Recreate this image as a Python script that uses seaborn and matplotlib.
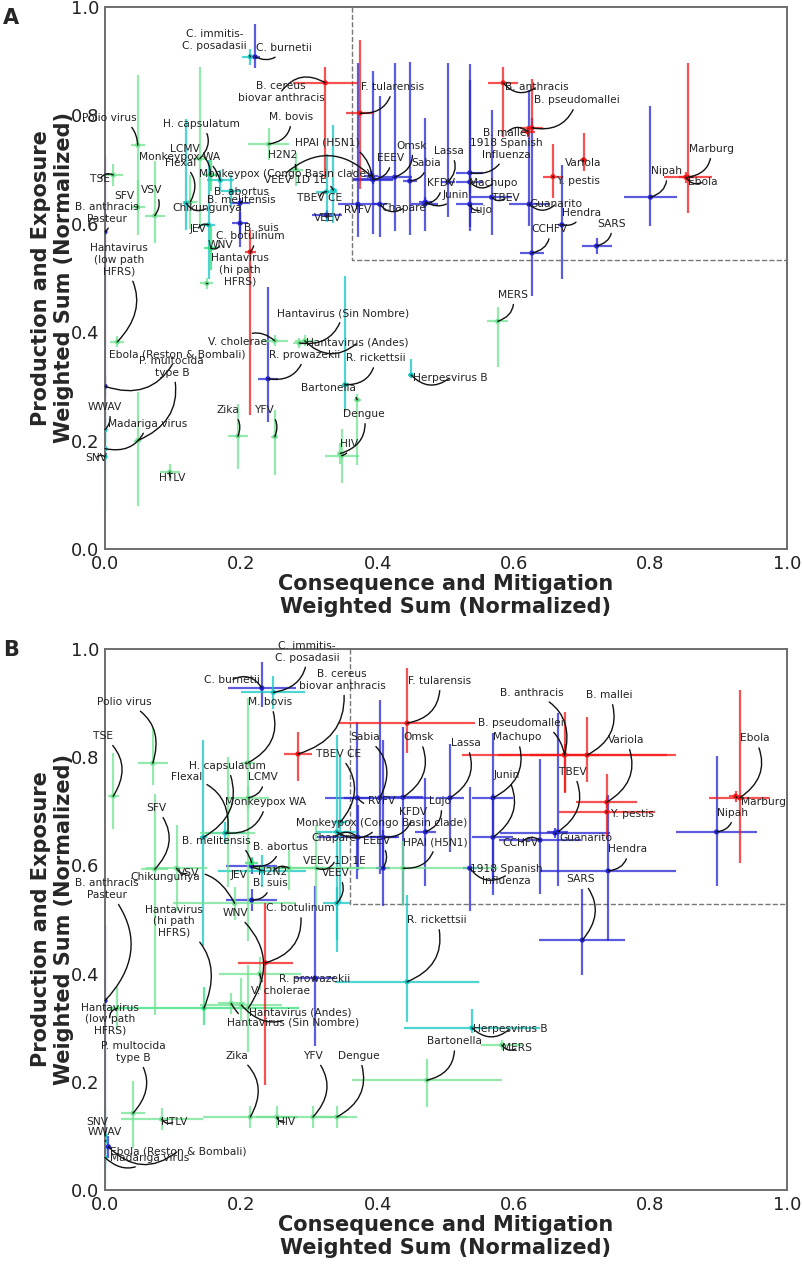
import matplotlib
matplotlib.use("Agg")
import matplotlib.pyplot as plt
import seaborn as sns
import pandas as pd
import numpy as np

# colour per hazard group
palette = {"lg": "#6fe391", "gc": "#2fe07a", "cy": "#14c8c2", "bl": "#2626d4", "rd": "#f41818"}

# =========================
# PANEL A
# =========================
a_names = ["C. immitis-\nC. posadasii", "C. burnetii", "B. cereus\nbiovar anthracis", "F. tularensis",
           "M. bovis", "Polio virus", "H. capsulatum", "LCMV", "Monkeypox WA", "Flexal", "TSE", "SFV",
           "VSV", "B. anthracis\nPasteur", "Chikungunya", "JEV", "B. abortus", "B. melitensis", "B. suis",
           "C. botulinum", "WNV", "Hantavirus\n(hi path\nHFRS)", "Hantavirus\n(low path\nHFRS)",
           "Ebola (Reston & Bombali)", "P. multocida\ntype B", "WWAV", "Madariga virus", "SNV", "HTLV",
           "Zika", "YFV", "V. cholerae", "Hantavirus (Andes)", "Hantavirus (Sin Nombre)", "R. prowazekii",
           "R. rickettsii", "Bartonella", "Dengue", "HIV", "Herpesvirus B", "MERS", "HPAI (H5N1)", "H2N2",
           "Monkeypox (Congo Basin clade)", "VEEV 1D 1E", "TBEV CE", "VEEV", "RVFV", "Chapare", "EEEV",
           "Omsk", "Sabia", "Lassa", "KFDV", "Junin", "1918 Spanish\nInfluenza", "Machupo", "TBEV", "Lujo",
           "Guanarito", "Hendra", "CCHFV", "B. anthracis", "B. pseudomallei", "B. mallei", "Variola",
           "Y. pestis", "SARS", "Nipah", "Marburg", "Ebola"]
a_x = [0.213, 0.220, 0.323, 0.374, 0.240, 0.048, 0.139, 0.155, 0.169, 0.125, 0.012, 0.048,
       0.073, 0.000, 0.119, 0.152, 0.198, 0.185, 0.198, 0.213, 0.155, 0.149, 0.018,
       0.000, 0.048, 0.000, 0.000, 0.000, 0.095, 0.195, 0.249, 0.249, 0.293, 0.285, 0.239,
       0.352, 0.370, 0.345, 0.347, 0.449, 0.576, 0.393, 0.280, 0.390, 0.335, 0.325, 0.325,
       0.371, 0.403, 0.393, 0.425, 0.447, 0.503, 0.469, 0.470, 0.535, 0.535, 0.567, 0.535,
       0.622, 0.670, 0.626, 0.584, 0.626, 0.620, 0.702, 0.657, 0.721, 0.800, 0.855, 0.852]
a_y = [0.908, 0.908, 0.860, 0.804, 0.747, 0.745, 0.720, 0.690, 0.680, 0.640, 0.690, 0.630,
       0.615, 0.585, 0.638, 0.598, 0.638, 0.660, 0.601, 0.548, 0.555, 0.490, 0.382,
       0.300, 0.200, 0.220, 0.185, 0.170, 0.142, 0.208, 0.207, 0.384, 0.384, 0.380, 0.314,
       0.303, 0.275, 0.176, 0.172, 0.321, 0.420, 0.683, 0.700, 0.688, 0.662, 0.659, 0.616,
       0.636, 0.636, 0.681, 0.686, 0.679, 0.677, 0.636, 0.640, 0.694, 0.677, 0.649, 0.636,
       0.636, 0.598, 0.546, 0.860, 0.777, 0.770, 0.718, 0.687, 0.559, 0.649, 0.686, 0.686]
a_xerr = [0.012, 0.008, 0.048, 0.020, 0.030, 0.010, 0.010, 0.010, 0.020, 0.010, 0.015, 0.010,
          0.015, 0.003, 0.005, 0.010, 0.015, 0.015, 0.012, 0.008, 0.010, 0.010, 0.010,
          0.003, 0.005, 0.003, 0.003, 0.003, 0.015, 0.015, 0.005, 0.020, 0.015, 0.010, 0.015,
          0.005, 0.005, 0.005, 0.025, 0.005, 0.015, 0.030, 0.010, 0.010, 0.005, 0.015, 0.022,
          0.030, 0.010, 0.030, 0.025, 0.010, 0.010, 0.020, 0.010, 0.020, 0.020, 0.030, 0.020,
          0.030, 0.005, 0.018, 0.022, 0.017, 0.010, 0.005, 0.015, 0.022, 0.039, 0.035, 0.010]
a_ylo = [0.015, 0.020, 0.175, 0.140, 0.030, 0.120, 0.130, 0.030, 0.020, 0.050, 0.020, 0.050,
         0.050, 0.360, 0.050, 0.100, 0.080, 0.030, 0.020, 0.300, 0.040, 0.010, 0.010,
         0.020, 0.120, 0.030, 0.030, 0.100, 0.015, 0.060, 0.070, 0.010, 0.010, 0.010, 0.080,
         0.050, 0.120, 0.020, 0.050, 0.005, 0.085, 0.010, 0.030, 0.010, 0.060, 0.055, 0.010,
         0.060, 0.060, 0.100, 0.100, 0.100, 0.064, 0.050, 0.010, 0.100, 0.020, 0.070, 0.050,
         0.040, 0.100, 0.080, 0.100, 0.010, 0.010, 0.020, 0.040, 0.015, 0.053, 0.066, 0.010]
a_yhi = [0.015, 0.060, 0.030, 0.135, 0.030, 0.130, 0.170, 0.030, 0.020, 0.050, 0.020, 0.050,
         0.100, 0.140, 0.155, 0.120, 0.010, 0.030, 0.020, 0.040, 0.040, 0.010, 0.010,
         0.020, 0.090, 0.030, 0.030, 0.050, 0.015, 0.060, 0.050, 0.010, 0.010, 0.010, 0.170,
         0.200, 0.010, 0.020, 0.050, 0.030, 0.027, 0.010, 0.030, 0.010, 0.120, 0.070, 0.010,
         0.260, 0.200, 0.200, 0.210, 0.220, 0.220, 0.160, 0.010, 0.200, 0.020, 0.160, 0.230,
         0.210, 0.110, 0.250, 0.030, 0.090, 0.010, 0.050, 0.060, 0.015, 0.168, 0.211, 0.010]
a_col = ["cy", "bl", "rd", "rd", "lg", "lg", "lg", "gc", "cy", "lg", "lg", "lg",
         "lg", "bl", "cy", "cy", "bl", "cy", "bl", "rd", "gc", "lg", "lg",
         "bl", "lg", "cy", "cy", "cy", "lg", "lg", "lg", "lg", "lg", "lg", "bl",
         "cy", "lg", "lg", "lg", "cy", "lg", "bl", "lg", "bl", "cy", "cy", "bl",
         "bl", "bl", "bl", "bl", "bl", "bl", "bl", "bl", "bl", "bl", "bl", "bl",
         "bl", "bl", "bl", "rd", "rd", "rd", "rd", "rd", "bl", "bl", "rd", "rd"]
a_tx = [0.161, 0.262, 0.258, 0.422, 0.273, 0.007, 0.141, 0.117, 0.110, 0.111, -0.007, 0.029,
        0.069, 0.003, 0.150, 0.136, 0.200, 0.200, 0.230, 0.213, 0.169, 0.198, 0.021,
        0.106, 0.098, 0.000, 0.062, -0.013, 0.098, 0.180, 0.235, 0.194, 0.370, 0.349, 0.293,
        0.397, 0.328, 0.380, 0.358, 0.506, 0.598, 0.326, 0.260, 0.264, 0.279, 0.315, 0.327,
        0.371, 0.438, 0.419, 0.449, 0.471, 0.504, 0.493, 0.515, 0.589, 0.570, 0.588, 0.551,
        0.661, 0.699, 0.652, 0.633, 0.692, 0.589, 0.702, 0.694, 0.743, 0.823, 0.889, 0.877]
a_ty = [0.939, 0.924, 0.843, 0.852, 0.797, 0.795, 0.784, 0.738, 0.723, 0.712, 0.683, 0.651,
        0.662, 0.620, 0.629, 0.590, 0.659, 0.644, 0.592, 0.577, 0.561, 0.515, 0.533,
        0.358, 0.336, 0.262, 0.231, 0.168, 0.131, 0.256, 0.256, 0.382, 0.380, 0.435, 0.358,
        0.352, 0.297, 0.249, 0.194, 0.316, 0.469, 0.749, 0.727, 0.692, 0.681, 0.648, 0.611,
        0.625, 0.629, 0.721, 0.744, 0.712, 0.734, 0.675, 0.653, 0.738, 0.675, 0.648, 0.625,
        0.636, 0.620, 0.590, 0.852, 0.828, 0.768, 0.712, 0.679, 0.600, 0.697, 0.738, 0.677]
a_box = (0.362, 0.533)

# =========================
# PANEL B
# =========================
b_names = ["C. immitis-\nC. posadasii", "C. burnetii", "B. cereus\nbiovar anthracis", "M. bovis",
           "Polio virus", "TSE", "H. capsulatum", "Flexal", "LCMV", "Monkeypox WA", "SFV",
           "B. anthracis\nPasteur", "Chikungunya", "VSV", "JEV", "H2N2", "B. abortus", "B. melitensis",
           "B. suis", "C. botulinum", "WNV", "Hantavirus\n(hi path\nHFRS)", "Hantavirus\n(low path\nHFRS)",
           "P. multocida\ntype B", "HTLV", "SNV", "WWAV", "Ebola (Reston & Bombali)", "Madariga virus",
           "Zika", "HIV", "YFV", "Dengue", "V. cholerae", "Hantavirus (Andes)", "Hantavirus (Sin Nombre)",
           "R. prowazekii", "R. rickettsii", "Herpesvirus B", "MERS", "Bartonella", "F. tularensis",
           "Omsk", "Lassa", "Lujo", "KFDV", "HPAI (H5N1)", "Machupo", "Junin", "1918 Spanish\nInfluenza",
           "B. anthracis", "B. pseudomallei", "B. mallei", "TBEV", "Variola", "Y. pestis", "Guanarito",
           "CCHFV", "Hendra", "SARS", "Ebola", "Marburg", "Nipah", "Sabia", "RVFV", "EEEV", "Chapare",
           "Monkeypox (Congo Basin clade)", "VEEV 1D 1E", "VEEV", "TBEV CE"]
b_x = [0.247, 0.230, 0.283, 0.210, 0.070, 0.012, 0.144, 0.180, 0.210, 0.176, 0.073,
       0.000, 0.190, 0.105, 0.230, 0.270, 0.215, 0.215, 0.215, 0.235, 0.210, 0.145, 0.018,
       0.041, 0.083, 0.000, 0.000, 0.005, 0.000, 0.213, 0.252, 0.305, 0.340, 0.227, 0.200, 0.185,
       0.308, 0.443, 0.538, 0.582, 0.472, 0.443, 0.437, 0.506, 0.470, 0.408, 0.437, 0.569, 0.569, 0.535,
       0.674, 0.674, 0.707, 0.664, 0.736, 0.736, 0.660, 0.638, 0.738, 0.700, 0.931, 0.925, 0.897,
       0.403, 0.370, 0.408, 0.371, 0.340, 0.310, 0.340, 0.345]
b_y = [0.920, 0.928, 0.806, 0.790, 0.789, 0.728, 0.652, 0.660, 0.725, 0.660, 0.593,
       0.350, 0.530, 0.595, 0.590, 0.595, 0.599, 0.605, 0.536, 0.420, 0.336, 0.336, 0.336,
       0.142, 0.131, 0.100, 0.090, 0.080, 0.060, 0.135, 0.135, 0.135, 0.135, 0.400, 0.342, 0.345,
       0.392, 0.385, 0.300, 0.268, 0.203, 0.863, 0.726, 0.725, 0.662, 0.652, 0.595, 0.725, 0.652, 0.595,
       0.804, 0.805, 0.804, 0.662, 0.717, 0.699, 0.660, 0.647, 0.590, 0.462, 0.725, 0.728, 0.662,
       0.725, 0.725, 0.595, 0.652, 0.662, 0.595, 0.530, 0.680]
b_xerr = [0.047, 0.050, 0.020, 0.010, 0.022, 0.008, 0.005, 0.040, 0.030, 0.030, 0.020,
          0.003, 0.090, 0.045, 0.065, 0.060, 0.037, 0.010, 0.037, 0.040, 0.010, 0.140, 0.010,
          0.018, 0.060, 0.003, 0.003, 0.003, 0.003, 0.070, 0.030, 0.050, 0.030, 0.060, 0.060, 0.020,
          0.030, 0.105, 0.100, 0.030, 0.110, 0.100, 0.030, 0.020, 0.015, 0.020, 0.140, 0.030, 0.030, 0.010,
          0.050, 0.150, 0.130, 0.015, 0.045, 0.070, 0.080, 0.060, 0.100, 0.063, 0.045, 0.010, 0.060,
          0.080, 0.020, 0.010, 0.060, 0.030, 0.070, 0.020, 0.010]
b_ylo = [0.030, 0.035, 0.050, 0.330, 0.040, 0.060, 0.200, 0.100, 0.020, 0.020, 0.270,
         0.300, 0.030, 0.080, 0.030, 0.040, 0.015, 0.010, 0.020, 0.226, 0.080, 0.030, 0.040,
         0.065, 0.020, 0.090, 0.020, 0.020, 0.020, 0.020, 0.020, 0.020, 0.020, 0.030, 0.030, 0.020,
         0.125, 0.075, 0.010, 0.010, 0.050, 0.055, 0.200, 0.100, 0.100, 0.060, 0.070, 0.180, 0.080, 0.080,
         0.070, 0.070, 0.050, 0.100, 0.010, 0.050, 0.010, 0.100, 0.130, 0.065, 0.120, 0.010, 0.100,
         0.140, 0.150, 0.070, 0.060, 0.200, 0.080, 0.090, 0.150]
b_yhi = [0.030, 0.048, 0.040, 0.120, 0.065, 0.080, 0.180, 0.140, 0.020, 0.020, 0.140,
         0.140, 0.030, 0.080, 0.030, 0.040, 0.015, 0.010, 0.020, 0.110, 0.080, 0.040, 0.040,
         0.060, 0.020, 0.050, 0.020, 0.020, 0.020, 0.020, 0.020, 0.020, 0.020, 0.030, 0.050, 0.020,
         0.170, 0.160, 0.035, 0.010, 0.040, 0.102, 0.130, 0.100, 0.100, 0.180, 0.050, 0.120, 0.080, 0.150,
         0.080, 0.020, 0.070, 0.220, 0.010, 0.070, 0.010, 0.150, 0.140, 0.095, 0.200, 0.010, 0.140,
         0.180, 0.140, 0.070, 0.060, 0.180, 0.080, 0.030, 0.120]
b_col = ["cy", "bl", "rd", "lg", "lg", "lg", "cy", "lg", "lg", "cy", "lg",
         "bl", "lg", "lg", "cy", "lg", "bl", "gc", "bl", "rd", "lg", "gc", "lg",
         "lg", "lg", "cy", "cy", "bl", "cy", "lg", "lg", "lg", "lg", "lg", "lg", "lg",
         "bl", "cy", "cy", "lg", "lg", "rd", "bl", "bl", "bl", "bl", "lg", "bl", "bl", "bl",
         "rd", "rd", "rd", "bl", "rd", "rd", "bl", "bl", "bl", "bl", "rd", "rd", "bl",
         "bl", "bl", "bl", "bl", "cy", "lg", "cy", "cy"]
b_tx = [0.296, 0.186, 0.348, 0.242, 0.029, -0.003, 0.179, 0.120, 0.232, 0.236, 0.075,
        0.003, 0.089, 0.122, 0.196, 0.246, 0.257, 0.163, 0.242, 0.286, 0.191, 0.101, 0.007,
        0.041, 0.101, -0.012, 0.000, 0.107, 0.066, 0.194, 0.265, 0.306, 0.372, 0.258, 0.286, 0.276,
        0.308, 0.487, 0.594, 0.604, 0.512, 0.491, 0.460, 0.529, 0.491, 0.452, 0.485, 0.604, 0.589, 0.589,
        0.626, 0.610, 0.740, 0.686, 0.764, 0.774, 0.705, 0.610, 0.767, 0.698, 0.953, 0.966, 0.921,
        0.381, 0.406, 0.399, 0.336, 0.405, 0.337, 0.339, 0.342]
b_ty = [0.995, 0.943, 0.943, 0.902, 0.902, 0.839, 0.784, 0.763, 0.763, 0.717, 0.706,
        0.556, 0.579, 0.586, 0.582, 0.588, 0.634, 0.645, 0.567, 0.521, 0.512, 0.497, 0.316,
        0.255, 0.126, 0.126, 0.107, 0.072, 0.059, 0.248, 0.126, 0.248, 0.248, 0.368, 0.329, 0.309,
        0.390, 0.499, 0.298, 0.262, 0.275, 0.941, 0.837, 0.826, 0.719, 0.699, 0.643, 0.837, 0.767, 0.582,
        0.919, 0.863, 0.915, 0.773, 0.832, 0.695, 0.651, 0.641, 0.630, 0.575, 0.835, 0.717, 0.697,
        0.837, 0.719, 0.645, 0.651, 0.678, 0.608, 0.586, 0.806]
b_box = (0.359, 0.529)


def draw_panel(ax, names, x, y, xerr, ylo, yhi, col, tx, ty, box):
    df = pd.DataFrame({"name": names, "x": x, "y": y, "xerr": xerr,
                       "ylo": ylo, "yhi": yhi, "col": col, "tx": tx, "ty": ty})
    # error crosses
    for c, g in df.groupby("col"):
        ax.errorbar(g["x"], g["y"], xerr=g["xerr"], yerr=[g["ylo"], g["yhi"]],
                    fmt="none", ecolor=palette[c], elinewidth=1.6, alpha=0.75, capsize=0, zorder=2)
    sns.scatterplot(data=df, x="x", y="y", hue="col", palette=palette, s=14,
                    linewidth=0, legend=False, ax=ax, zorder=3)
    for _, r in df.iterrows():
        ax.annotate(r["name"], xy=(r["x"], r["y"]), xytext=(r["tx"], r["ty"]),
                    ha="center", va="center", fontsize=7.7, color="#222222", zorder=4,
                    annotation_clip=False,
                    arrowprops=dict(arrowstyle="-", connectionstyle="arc3,rad=-0.45",
                                    color="#111111", lw=1.0, shrinkA=1, shrinkB=0))
    # dashed high-risk region
    ax.plot([box[0], box[0], 1.0], [1.0, box[1], box[1]], ls="--", color="#777777", lw=1.0, zorder=1)
    ax.set_xlim(0, 1)
    ax.set_ylim(0, 1)
    ticks = np.arange(0, 1.01, 0.2)
    ax.set_xticks(ticks)
    ax.set_yticks(ticks)
    ax.set_xticklabels([f"{v:.1f}" for v in ticks])
    ax.set_yticklabels([f"{v:.1f}" for v in ticks])
    ax.tick_params(labelsize=13, length=1.5, pad=2.5, color="#666666", labelcolor="#222222")
    ax.set_xlabel("Consequence and Mitigation\nWeighted Sum (Normalized)", fontsize=15, fontweight="bold",
                  va="top")
    ax.set_ylabel("Production and Exposure\nWeighted Sum (Normalized)", fontsize=15, fontweight="bold")
    ax.xaxis.set_label_coords(0.5, -0.046)
    ax.yaxis.set_label_coords(-0.045, 0.5)
    for s in ax.spines.values():
        s.set_visible(True)
        s.set_color("#6e6e6e")
        s.set_linewidth(1.4)


sns.set_style("white")
plt.rcParams["font.family"] = ["DejaVu Sans"]

fig = plt.figure(figsize=(8.03, 12.64), dpi=100)
ax_a = fig.add_axes([0.1308, 0.5657, 0.849, 0.4288])
ax_b = fig.add_axes([0.1308, 0.0585, 0.849, 0.428])

draw_panel(ax_a, a_names, a_x, a_y, a_xerr, a_ylo, a_yhi, a_col, a_tx, a_ty, a_box)
draw_panel(ax_b, b_names, b_x, b_y, b_xerr, b_ylo, b_yhi, b_col, b_tx, b_ty, b_box)

fig.text(0.004, 0.994, "A", fontsize=15, fontweight="bold", va="top")
fig.text(0.004, 0.494, "B", fontsize=15, fontweight="bold", va="top")

fig.savefig("out.png", dpi=100)
